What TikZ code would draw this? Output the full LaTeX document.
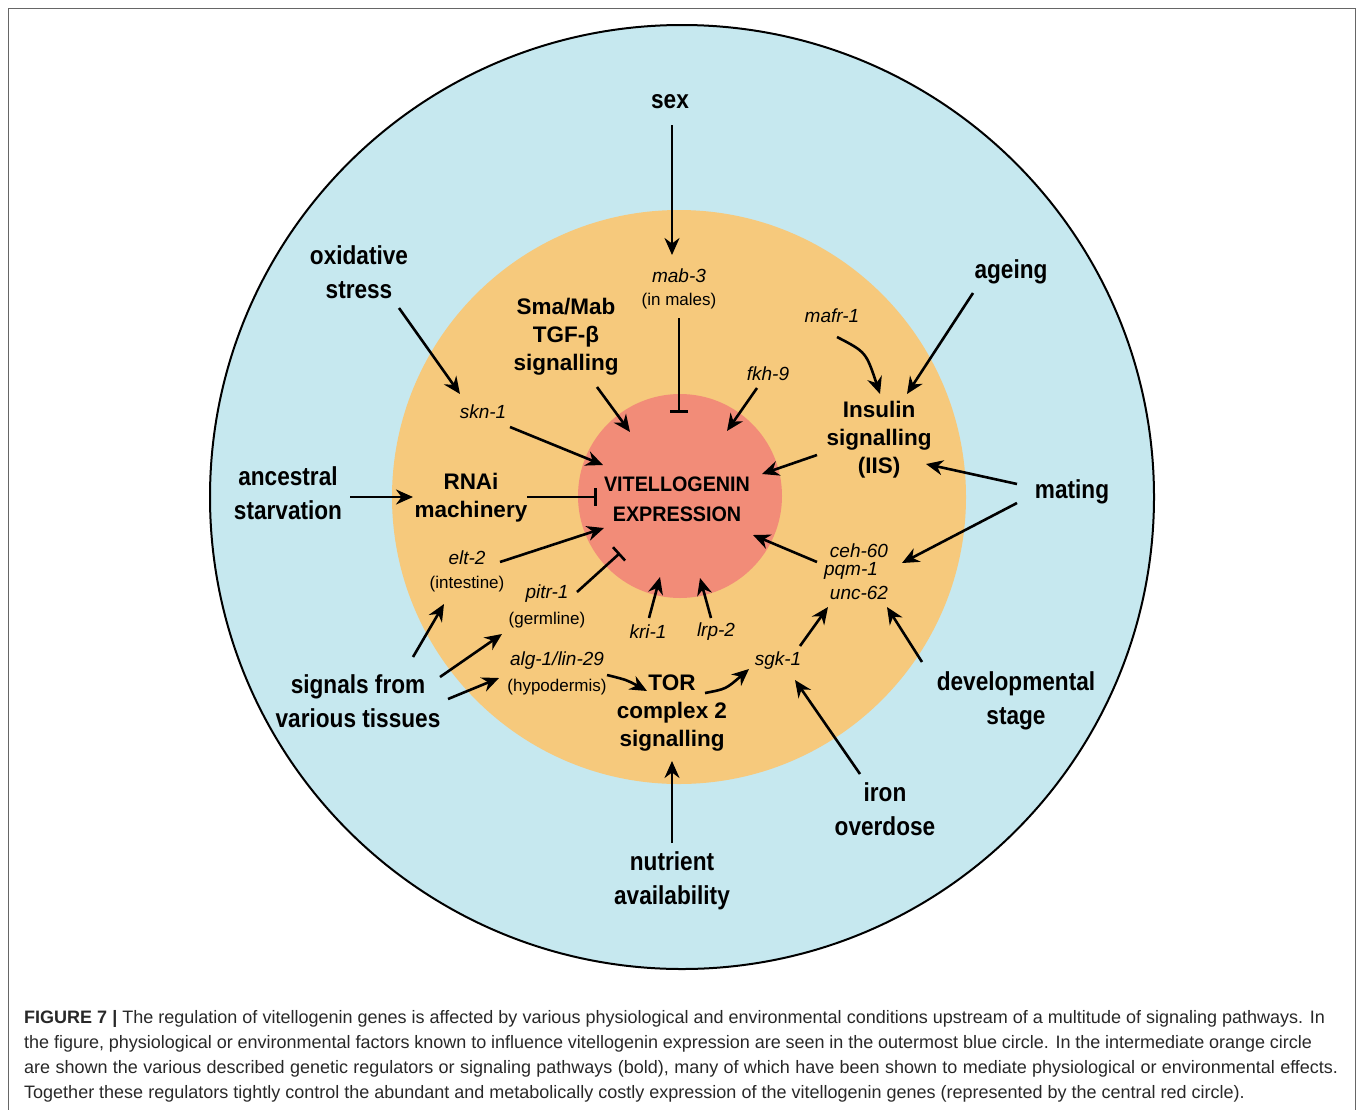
\documentclass[tikz,border=0pt]{standalone}
\usepackage{fontspec}
\setmainfont{Liberation Sans}
\newfontfamily\condfont[FakeStretch=0.87]{Liberation Sans}
\newfontfamily\vitfont[FakeStretch=0.94]{Liberation Sans}
\newfontfamily\capfont{Liberation Sans}
\usetikzlibrary{arrows.meta}
\definecolor{ringblue}{RGB}{198,232,239}
\definecolor{ringorange}{RGB}{246,201,124}
\definecolor{corered}{RGB}{242,140,120}
\definecolor{capgray}{RGB}{40,40,40}
\tikzset{
  outerlbl/.style={font=\condfont\bfseries\fontsize{26}{34}\selectfont, align=center, inner sep=0pt},
  innerlbl/.style={font=\bfseries\fontsize{22.5}{28}\selectfont, align=center, inner sep=0pt},
  vitlbl/.style={font=\vitfont\bfseries\fontsize{21}{30}\selectfont, align=center, inner sep=0pt},
  gene/.style={font=\itshape\fontsize{19}{23}\selectfont, inner sep=0pt},
  tissue/.style={font=\fontsize{17}{21}\selectfont, inner sep=0pt},
  arr/.style={line width=2.6pt, -{Stealth[length=17pt,width=15pt]}},
  inh/.style={line width=2.6pt, -{Bar[width=18pt,line width=2.6pt]}},
  capline/.style={font=\capfont\fontsize{18}{25}\selectfont, text=capgray, inner sep=0pt, anchor=base west}
}
\begin{document}
\begin{tikzpicture}[x=1pt,y=-1pt]
\useasboundingbox (0,0) rectangle (1357,1109);
% frame
\draw[black!60, line width=1pt] (8,1110) -- (8,8) -- (1355,8) -- (1355,1110);
% rings
\fill[ringblue] (682,497) circle[radius=472pt];
\draw[black, line width=2pt] (682,497) circle[radius=472pt];
\fill[ringorange] (679,497) circle[radius=287pt];
\fill[corered] (680,496) circle[radius=102pt];

% outer factors
\node[outerlbl] (sex) at (670,102) {sex};
\node[outerlbl] (oxi) at (359,272) {oxidative\\stress};
\node[outerlbl] (age) at (1011,272) {ageing};
\node[outerlbl] (anc) at (288,493) {ancestral\\starvation};
\node[outerlbl] (mat) at (1072,492) {mating};
\node[outerlbl] (sig) at (358,701) {signals from\\various tissues};
\node[outerlbl] (dev) at (1016,701) {developmental\\stage};
\node[outerlbl] (iron) at (885,809) {iron\\overdose};
\node[outerlbl] (nut) at (672,881) {nutrient\\availability};

% pathways (bold)
\node[innerlbl] (tgf) at (566,337) {Sma/Mab\\TGF-β\\signalling};
\node[innerlbl] (iis) at (879,440) {Insulin\\signalling\\(IIS)};
\node[innerlbl] (rnai) at (471,498) {RNAi\\machinery};
\node[innerlbl] (tor) at (672,713) {TOR\\complex 2\\signalling};
\node[vitlbl] (vit) at (677,499) {VITELLOGENIN\\EXPRESSION};

% genes
\node[gene] (mab) at (679,276) {mab-3};
\node[tissue] (males) at (679,301) {(in males)};
\node[gene] (fkh) at (768,374) {fkh-9};
\node[gene] (mafr) at (832,316) {mafr-1};
\node[gene] (skn) at (483,412) {skn-1};
\node[gene] (elt) at (467,558) {elt-2};
\node[tissue] (intest) at (467,584) {(intestine)};
\node[gene] (pitr) at (547,594) {pitr-1};
\node[tissue] (germ) at (547,620) {(germline)};
\node[gene] (kri) at (648,632) {kri-1};
\node[gene] (lrp) at (716,632) {lrp-2};
\node[gene] (ceh) at (859,551) {ceh-60};
\node[gene] (pqm) at (851,571) {pqm-1};
\node[gene] (unc) at (859,593) {unc-62};
\node[gene] (sgk) at (778,661) {sgk-1};
\node[gene] (alg) at (557,661) {alg-1/lin-29};
\node[tissue] (hypo) at (557,687) {(hypodermis)};

% connector end points
\coordinate (sexS) at (672,125);   \coordinate (sexE) at (672,255);
\coordinate (mabS) at (679,318);   \coordinate (mabE) at (679,413);
\coordinate (tgfS) at (597,387);   \coordinate (tgfE) at (630,432);
\coordinate (fkhS) at (757,388);   \coordinate (fkhE) at (727,431);
\coordinate (oxiS) at (399,308);   \coordinate (oxiE) at (460,394);
\coordinate (sknS) at (510,427);   \coordinate (sknE) at (603,465);
\coordinate (ancS) at (350,497);   \coordinate (ancE) at (413,497);
\coordinate (rnaiS) at (527,497);  \coordinate (rnaiE) at (597,497);
\coordinate (eltS) at (500,562);   \coordinate (eltE) at (604,528);
\coordinate (pitrS) at (577,592);  \coordinate (pitrE) at (620,553);
\coordinate (kriS) at (649,618);   \coordinate (kriE) at (660,577);
\coordinate (lrpS) at (711,618);   \coordinate (lrpE) at (700,578);
\coordinate (mafrS) at (837,337);  \coordinate (mafrE) at (880,394);
\coordinate (ageS) at (973,293);   \coordinate (ageE) at (907,394);
\coordinate (iisS) at (817,455);   \coordinate (iisE) at (762,474);
\coordinate (matS1) at (1017,484); \coordinate (matE1) at (926,464);
\coordinate (matS2) at (1017,503); \coordinate (matE2) at (902,563);
\coordinate (cehS) at (817,562);   \coordinate (cehE) at (753,535);
\coordinate (sgkS) at (800,646);   \coordinate (sgkE) at (828,607);
\coordinate (devS) at (922,662);   \coordinate (devE) at (887,607);
\coordinate (ironS) at (860,774);  \coordinate (ironE) at (795,680);
\coordinate (algS) at (607,675);   \coordinate (algE) at (647,691);
\coordinate (torS) at (705,693);   \coordinate (torE) at (749,669);
\coordinate (nutS) at (672,843);   \coordinate (nutE) at (672,761);
\coordinate (sigS1) at (413,657);  \coordinate (sigE1) at (444,604);
\coordinate (sigS2) at (440,677);  \coordinate (sigE2) at (502,634);
\coordinate (sigS3) at (448,699);  \coordinate (sigE3) at (499,678);

% connectors
\draw[arr] (sexS) -- (sexE);
\draw[inh] (mabS) -- (mabE);
\draw[arr] (tgfS) -- (tgfE);
\draw[arr] (fkhS) -- (fkhE);
\draw[arr] (oxiS) -- (oxiE);
\draw[arr] (sknS) -- (sknE);
\draw[arr] (ancS) -- (ancE);
\draw[inh] (rnaiS) -- (rnaiE);
\draw[arr] (eltS) -- (eltE);
\draw[inh] (pitrS) -- (pitrE);
\draw[arr] (kriS) -- (kriE);
\draw[arr] (lrpS) -- (lrpE);
\draw[arr] (mafrS) .. controls (866,352) .. (mafrE);
\draw[arr] (ageS) -- (ageE);
\draw[arr] (iisS) -- (iisE);
\draw[arr] (matS1) -- (matE1);
\draw[arr] (matS2) -- (matE2);
\draw[arr] (cehS) -- (cehE);
\draw[arr] (sgkS) -- (sgkE);
\draw[arr] (devS) -- (devE);
\draw[arr] (ironS) -- (ironE);
\draw[arr] (algS) .. controls (627,680) .. (algE);
\draw[arr] (torS) .. controls (726,689) .. (torE);
\draw[arr] (nutS) -- (nutE);
\draw[arr] (sigS1) -- (sigE1);
\draw[arr] (sigS2) -- (sigE2);
\draw[arr] (sigS3) -- (sigE3);

% caption
\node[capline] (cap1) at (24,1023) {\makebox[1301pt][s]{\textbf{FIGURE 7 |} The regulation of vitellogenin genes is affected by various physiological and environmental conditions upstream of a multitude of signaling pathways. In}};
\node[capline] (cap2) at (24,1048) {\makebox[1288pt][s]{the figure, physiological or environmental factors known to influence vitellogenin expression are seen in the outermost blue circle. In the intermediate orange circle}};
\node[capline] (cap3) at (24,1073) {\makebox[1314pt][s]{are shown the various described genetic regulators or signaling pathways (bold), many of which have been shown to mediate physiological or environmental effects.}};
\node[capline] (cap4) at (24,1098) {Together these regulators tightly control the abundant and metabolically costly expression of the vitellogenin genes (represented by the central red circle).};
\end{tikzpicture}
\end{document}
